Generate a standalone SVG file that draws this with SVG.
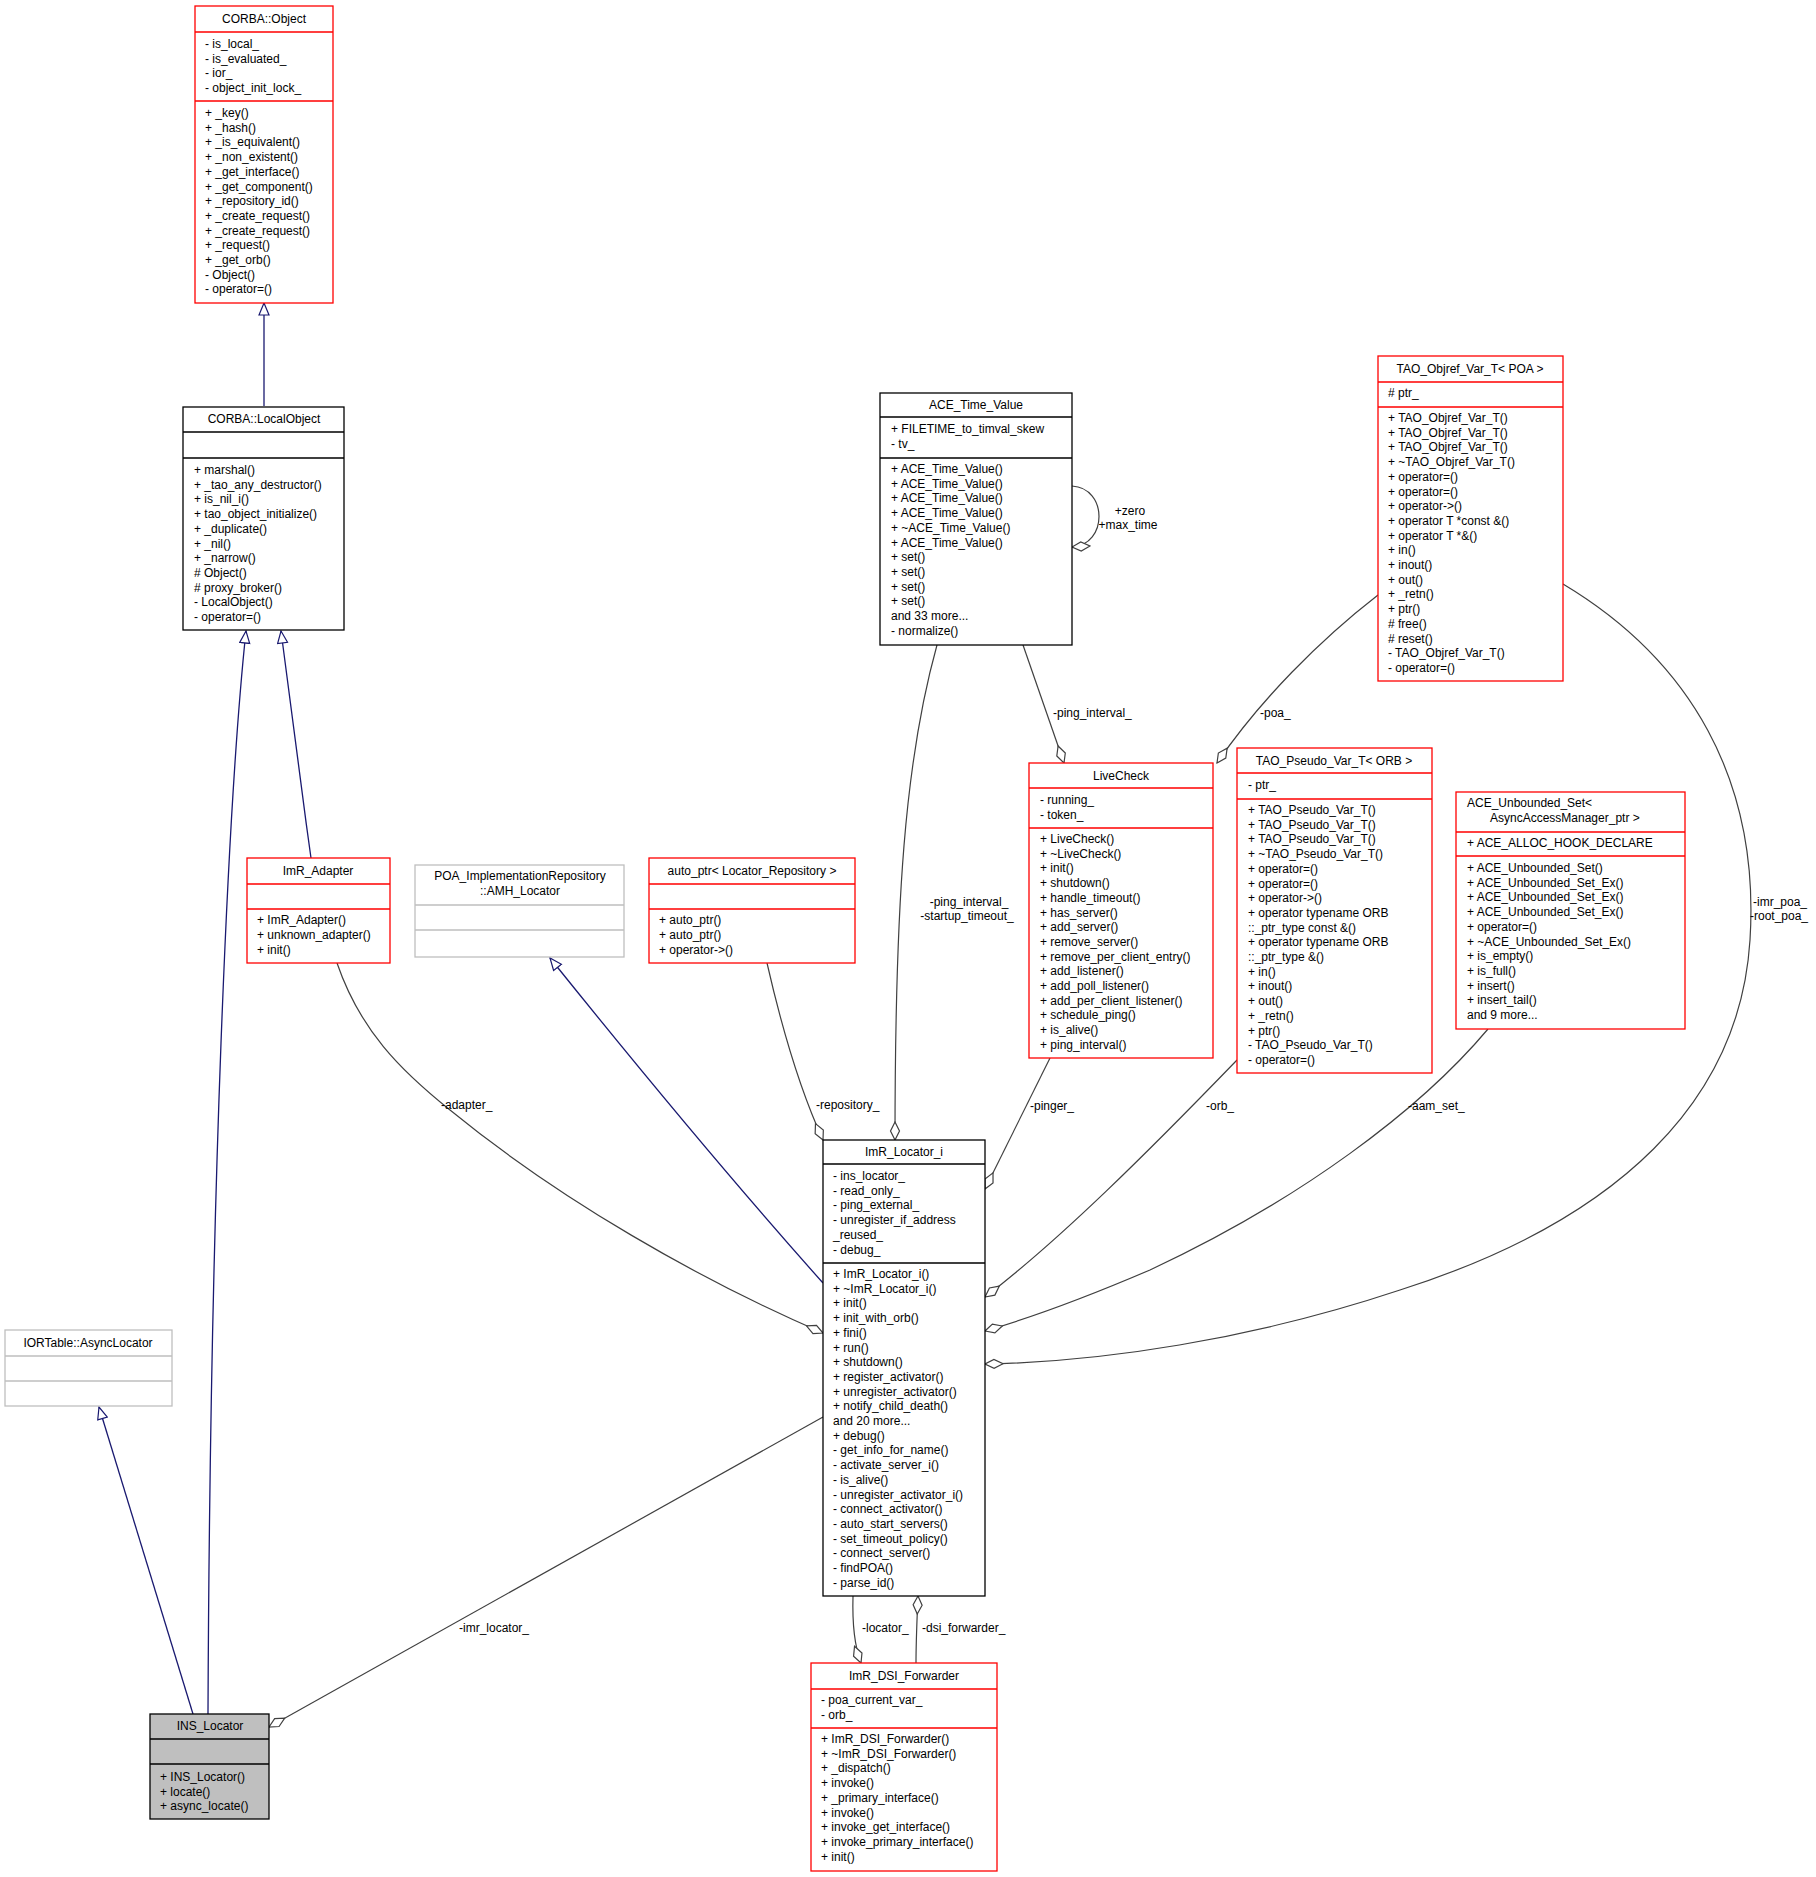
<svg xmlns="http://www.w3.org/2000/svg" width="1816" height="1877" viewBox="0 0 1816 1877">
<style>
text{font-family:"Liberation Sans",Arial,sans-serif;font-size:12px;fill:#000}
.t{text-anchor:middle}
.bk{fill:#fff;stroke:#000;stroke-width:1.3}
.rd{fill:#fff;stroke:#ff0000;stroke-width:1.3}
.gy{fill:#fff;stroke:#bfbfbf;stroke-width:1.3}
.sel{fill:#bfbfbf;stroke:#000;stroke-width:1.3}
.e{fill:none;stroke:#404040;stroke-width:1.2}
.i{fill:none;stroke:#191970;stroke-width:1.3}
</style>
<defs>
<marker id="tri" markerUnits="userSpaceOnUse" markerWidth="14" markerHeight="12" refX="13" refY="6" orient="auto"><path d="M1,1 L13,6 L1,11 Z" fill="#fff" stroke="#191970" stroke-width="1.2"/></marker>
<marker id="dia" markerUnits="userSpaceOnUse" markerWidth="20" markerHeight="12" refX="19" refY="6" orient="auto"><path d="M1,6 L10,1.5 L19,6 L10,10.5 Z" fill="#fff" stroke="#404040" stroke-width="1.2"/></marker>
</defs>
<g id="connectors">
<path class="i" d="M264,406 L264,303" marker-end="url(#tri)"/>
<path class="i" d="M208,1714 C210,1200 228,800 246,631" marker-end="url(#tri)"/>
<path class="i" d="M311,858 C300,780 290,700 281,631" marker-end="url(#tri)"/>
<path class="i" d="M193,1714 L99,1407" marker-end="url(#tri)"/>
<path class="i" d="M823,1283 C740,1190 640,1070 550,958" marker-end="url(#tri)"/>
<path class="e" d="M337,963 C360,1030 400,1070 450,1110 C560,1200 700,1280 823,1333" marker-end="url(#dia)"/>
<path class="e" d="M767,963 C780,1020 800,1090 823,1140" marker-end="url(#dia)"/>
<path class="e" d="M937,645 C905,760 895,900 895,1140" marker-end="url(#dia)"/>
<path class="e" d="M1072,486 C1108,488 1108,545 1072,547" marker-end="url(#dia)"/>
<path class="e" d="M1023,645 L1064,763" marker-end="url(#dia)"/>
<path class="e" d="M1378,595 C1320,640 1260,700 1217,763" marker-end="url(#dia)"/>
<path class="e" d="M1050,1058 L985,1189" marker-end="url(#dia)"/>
<path class="e" d="M1237,1060 C1150,1150 1060,1240 985,1297" marker-end="url(#dia)"/>
<path class="e" d="M1488,1029 C1420,1110 1300,1200 1150,1270 C1080,1300 1030,1318 985,1331" marker-end="url(#dia)"/>
<path class="e" d="M1563,584 C1690,660 1760,780 1750,940 C1740,1100 1620,1220 1400,1290 C1250,1340 1100,1362 985,1364" marker-end="url(#dia)"/>
<path class="e" d="M823,1417 L269,1727" marker-end="url(#dia)"/>
<path class="e" d="M853,1596 C852,1630 856,1650 861,1663" marker-end="url(#dia)"/>
<path class="e" d="M916,1663 C916,1640 917,1620 918,1596" marker-end="url(#dia)"/>
<text x="441" y="1109">-adapter_</text>
<text x="816" y="1109">-repository_</text>
<text class="t" x="969" y="906">-ping_interval_</text>
<text class="t" x="967" y="920">-startup_timeout_</text>
<text class="t" x="1130" y="515">+zero</text>
<text class="t" x="1128" y="529">+max_time</text>
<text x="1053" y="717">-ping_interval_</text>
<text x="1260" y="717">-poa_</text>
<text x="1030" y="1110">-pinger_</text>
<text x="1206" y="1110">-orb_</text>
<text x="1408" y="1110">-aam_set_</text>
<text x="1753" y="906">-imr_poa_</text>
<text x="1750" y="920">-root_poa_</text>
<text x="459" y="1632">-imr_locator_</text>
<text x="862" y="1632">-locator_</text>
<text x="922" y="1632">-dsi_forwarder_</text>
</g>
<g id="CORBA_Object">
<rect class="rd" x="195" y="6" width="138" height="297"/>
<path class="rd" d="M195,32 H333 M195,101 H333"/>
<text class="t" x="264" y="23">CORBA::Object</text>
<text x="205" y="48">- is_local_</text><text x="205" y="62.7">- is_evaluated_</text><text x="205" y="77.4">- ior_</text><text x="205" y="92.1">- object_init_lock_</text>
<text x="205" y="117">+ _key()</text><text x="205" y="131.7">+ _hash()</text><text x="205" y="146.4">+ _is_equivalent()</text><text x="205" y="161.1">+ _non_existent()</text><text x="205" y="175.8">+ _get_interface()</text><text x="205" y="190.5">+ _get_component()</text><text x="205" y="205.2">+ _repository_id()</text><text x="205" y="219.9">+ _create_request()</text><text x="205" y="234.6">+ _create_request()</text><text x="205" y="249.3">+ _request()</text><text x="205" y="264">+ _get_orb()</text><text x="205" y="278.7">- Object()</text><text x="205" y="293.4">- operator=()</text>
</g>
<g id="CORBA_LocalObject">
<rect class="bk" x="183" y="407" width="161" height="223"/>
<path class="bk" d="M183,432 H344 M183,458 H344"/>
<text class="t" x="264" y="423">CORBA::LocalObject</text>
<text x="194" y="474">+ marshal()</text><text x="194" y="488.7">+ _tao_any_destructor()</text><text x="194" y="503.4">+ is_nil_i()</text><text x="194" y="518.1">+ tao_object_initialize()</text><text x="194" y="532.8">+ _duplicate()</text><text x="194" y="547.5">+ _nil()</text><text x="194" y="562.2">+ _narrow()</text><text x="194" y="576.9"># Object()</text><text x="194" y="591.6"># proxy_broker()</text><text x="194" y="606.3">- LocalObject()</text><text x="194" y="621">- operator=()</text>
</g>
<g id="ImR_Adapter">
<rect class="rd" x="247" y="858" width="143" height="105"/>
<path class="rd" d="M247,884 H390 M247,909 H390"/>
<text class="t" x="318" y="875">ImR_Adapter</text>
<text x="257" y="924">+ ImR_Adapter()</text><text x="257" y="939">+ unknown_adapter()</text><text x="257" y="954">+ init()</text>
</g>
<g id="AMH_Locator">
<rect class="gy" x="415" y="865" width="209" height="92"/>
<path class="gy" d="M415,905 H624 M415,930 H624"/>
<text class="t" x="520" y="880">POA_ImplementationRepository</text>
<text class="t" x="520" y="895">::AMH_Locator</text>
</g>
<g id="auto_ptr">
<rect class="rd" x="649" y="858" width="206" height="105"/>
<path class="rd" d="M649,884 H855 M649,909 H855"/>
<text class="t" x="752" y="875">auto_ptr&lt; Locator_Repository &gt;</text>
<text x="659" y="924">+ auto_ptr()</text><text x="659" y="939">+ auto_ptr()</text><text x="659" y="954">+ operator-&gt;()</text>
</g>
<g id="IORTable_AsyncLocator">
<rect class="gy" x="5" y="1330" width="167" height="76"/>
<path class="gy" d="M5,1356 H172 M5,1381 H172"/>
<text class="t" x="88" y="1347">IORTable::AsyncLocator</text>
</g>
<g id="INS_Locator">
<rect class="sel" x="150" y="1714" width="119" height="105"/>
<path class="sel" d="M150,1739 H269 M150,1764 H269"/>
<text class="t" x="210" y="1730">INS_Locator</text>
<text x="160" y="1781">+ INS_Locator()</text><text x="160" y="1795.7">+ locate()</text><text x="160" y="1810.4">+ async_locate()</text>
</g>
<g id="ACE_Time_Value">
<rect class="bk" x="880" y="393" width="192" height="252"/>
<path class="bk" d="M880,417 H1072 M880,458 H1072"/>
<text class="t" x="976" y="409">ACE_Time_Value</text>
<text x="891" y="433">+ FILETIME_to_timval_skew</text><text x="891" y="448">- tv_</text>
<text x="891" y="473">+ ACE_Time_Value()</text><text x="891" y="487.7">+ ACE_Time_Value()</text><text x="891" y="502.4">+ ACE_Time_Value()</text><text x="891" y="517.1">+ ACE_Time_Value()</text><text x="891" y="531.8">+ ~ACE_Time_Value()</text><text x="891" y="546.5">+ ACE_Time_Value()</text><text x="891" y="561.2">+ set()</text><text x="891" y="575.9">+ set()</text><text x="891" y="590.6">+ set()</text><text x="891" y="605.3">+ set()</text><text x="891" y="620">and 33 more...</text><text x="891" y="634.7">- normalize()</text>
</g>
<g id="LiveCheck">
<rect class="rd" x="1029" y="763" width="184" height="295"/>
<path class="rd" d="M1029,788 H1213 M1029,828 H1213"/>
<text class="t" x="1121" y="780">LiveCheck</text>
<text x="1040" y="804">- running_</text><text x="1040" y="818.7">- token_</text>
<text x="1040" y="843">+ LiveCheck()</text><text x="1040" y="857.7">+ ~LiveCheck()</text><text x="1040" y="872.4">+ init()</text><text x="1040" y="887.1">+ shutdown()</text><text x="1040" y="901.8">+ handle_timeout()</text><text x="1040" y="916.5">+ has_server()</text><text x="1040" y="931.2">+ add_server()</text><text x="1040" y="945.9">+ remove_server()</text><text x="1040" y="960.6">+ remove_per_client_entry()</text><text x="1040" y="975.3">+ add_listener()</text><text x="1040" y="990">+ add_poll_listener()</text><text x="1040" y="1004.7">+ add_per_client_listener()</text><text x="1040" y="1019.4">+ schedule_ping()</text><text x="1040" y="1034.1">+ is_alive()</text><text x="1040" y="1048.8">+ ping_interval()</text>
</g>
<g id="TAO_Objref_Var_T_POA">
<rect class="rd" x="1378" y="356" width="185" height="325"/>
<path class="rd" d="M1378,382 H1563 M1378,407 H1563"/>
<text class="t" x="1470" y="373">TAO_Objref_Var_T&lt; POA &gt;</text>
<text x="1388" y="397"># ptr_</text>
<text x="1388" y="422">+ TAO_Objref_Var_T()</text><text x="1388" y="436.7">+ TAO_Objref_Var_T()</text><text x="1388" y="451.4">+ TAO_Objref_Var_T()</text><text x="1388" y="466.1">+ ~TAO_Objref_Var_T()</text><text x="1388" y="480.8">+ operator=()</text><text x="1388" y="495.5">+ operator=()</text><text x="1388" y="510.2">+ operator-&gt;()</text><text x="1388" y="524.9">+ operator T *const &amp;()</text><text x="1388" y="539.6">+ operator T *&amp;()</text><text x="1388" y="554.3">+ in()</text><text x="1388" y="569">+ inout()</text><text x="1388" y="583.7">+ out()</text><text x="1388" y="598.4">+ _retn()</text><text x="1388" y="613.1">+ ptr()</text><text x="1388" y="627.8"># free()</text><text x="1388" y="642.5"># reset()</text><text x="1388" y="657.2">- TAO_Objref_Var_T()</text><text x="1388" y="671.9">- operator=()</text>
</g>
<g id="TAO_Pseudo_Var_T_ORB">
<rect class="rd" x="1237" y="748" width="195" height="325"/>
<path class="rd" d="M1237,773 H1432 M1237,799 H1432"/>
<text class="t" x="1334" y="765">TAO_Pseudo_Var_T&lt; ORB &gt;</text>
<text x="1248" y="789">- ptr_</text>
<text x="1248" y="814">+ TAO_Pseudo_Var_T()</text><text x="1248" y="828.7">+ TAO_Pseudo_Var_T()</text><text x="1248" y="843.4">+ TAO_Pseudo_Var_T()</text><text x="1248" y="858.1">+ ~TAO_Pseudo_Var_T()</text><text x="1248" y="872.8">+ operator=()</text><text x="1248" y="887.5">+ operator=()</text><text x="1248" y="902.2">+ operator-&gt;()</text><text x="1248" y="916.9">+ operator typename ORB</text><text x="1248" y="931.6">::_ptr_type const &amp;()</text><text x="1248" y="946.3">+ operator typename ORB</text><text x="1248" y="961">::_ptr_type &amp;()</text><text x="1248" y="975.7">+ in()</text><text x="1248" y="990.4">+ inout()</text><text x="1248" y="1005.1">+ out()</text><text x="1248" y="1019.8">+ _retn()</text><text x="1248" y="1034.5">+ ptr()</text><text x="1248" y="1049.2">- TAO_Pseudo_Var_T()</text><text x="1248" y="1063.9">- operator=()</text>
</g>
<g id="ACE_Unbounded_Set">
<rect class="rd" x="1456" y="792" width="229" height="237"/>
<path class="rd" d="M1456,832 H1685 M1456,856 H1685"/>
<text x="1467" y="807">ACE_Unbounded_Set&lt;</text>
<text x="1490" y="822">AsyncAccessManager_ptr &gt;</text>
<text x="1467" y="847">+ ACE_ALLOC_HOOK_DECLARE</text>
<text x="1467" y="872">+ ACE_Unbounded_Set()</text><text x="1467" y="886.7">+ ACE_Unbounded_Set_Ex()</text><text x="1467" y="901.4">+ ACE_Unbounded_Set_Ex()</text><text x="1467" y="916.1">+ ACE_Unbounded_Set_Ex()</text><text x="1467" y="930.8">+ operator=()</text><text x="1467" y="945.5">+ ~ACE_Unbounded_Set_Ex()</text><text x="1467" y="960.2">+ is_empty()</text><text x="1467" y="974.9">+ is_full()</text><text x="1467" y="989.6">+ insert()</text><text x="1467" y="1004.3">+ insert_tail()</text><text x="1467" y="1019">and 9 more...</text>
</g>
<g id="ImR_Locator_i">
<rect class="bk" x="823" y="1140" width="162" height="456"/>
<path class="bk" d="M823,1164 H985 M823,1263 H985"/>
<text class="t" x="904" y="1156">ImR_Locator_i</text>
<text x="833" y="1180">- ins_locator_</text><text x="833" y="1194.7">- read_only_</text><text x="833" y="1209.4">- ping_external_</text><text x="833" y="1224.1">- unregister_if_address</text><text x="833" y="1238.8">_reused_</text><text x="833" y="1253.5">- debug_</text>
<text x="833" y="1278">+ ImR_Locator_i()</text><text x="833" y="1292.7">+ ~ImR_Locator_i()</text><text x="833" y="1307.4">+ init()</text><text x="833" y="1322.1">+ init_with_orb()</text><text x="833" y="1336.8">+ fini()</text><text x="833" y="1351.5">+ run()</text><text x="833" y="1366.2">+ shutdown()</text><text x="833" y="1380.9">+ register_activator()</text><text x="833" y="1395.6">+ unregister_activator()</text><text x="833" y="1410.3">+ notify_child_death()</text><text x="833" y="1425">and 20 more...</text><text x="833" y="1439.7">+ debug()</text><text x="833" y="1454.4">- get_info_for_name()</text><text x="833" y="1469.1">- activate_server_i()</text><text x="833" y="1483.8">- is_alive()</text><text x="833" y="1498.5">- unregister_activator_i()</text><text x="833" y="1513.2">- connect_activator()</text><text x="833" y="1527.9">- auto_start_servers()</text><text x="833" y="1542.6">- set_timeout_policy()</text><text x="833" y="1557.3">- connect_server()</text><text x="833" y="1572">- findPOA()</text><text x="833" y="1586.7">- parse_id()</text>
</g>
<g id="ImR_DSI_Forwarder">
<rect class="rd" x="811" y="1663" width="186" height="208"/>
<path class="rd" d="M811,1689 H997 M811,1728 H997"/>
<text class="t" x="904" y="1680">ImR_DSI_Forwarder</text>
<text x="821" y="1704">- poa_current_var_</text><text x="821" y="1718.7">- orb_</text>
<text x="821" y="1743">+ ImR_DSI_Forwarder()</text><text x="821" y="1757.7">+ ~ImR_DSI_Forwarder()</text><text x="821" y="1772.4">+ _dispatch()</text><text x="821" y="1787.1">+ invoke()</text><text x="821" y="1801.8">+ _primary_interface()</text><text x="821" y="1816.5">+ invoke()</text><text x="821" y="1831.2">+ invoke_get_interface()</text><text x="821" y="1845.9">+ invoke_primary_interface()</text><text x="821" y="1860.6">+ init()</text>
</g>
</svg>
